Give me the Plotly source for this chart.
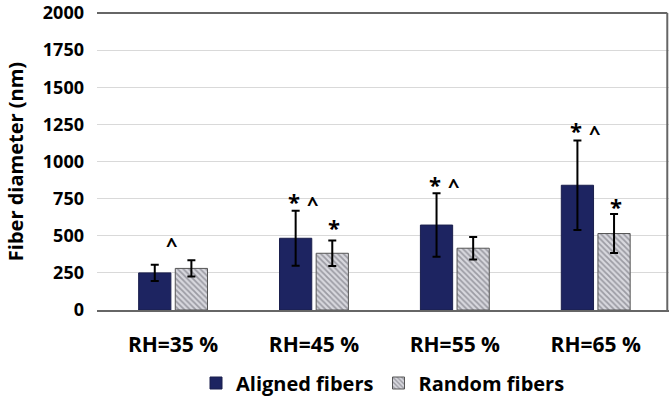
import plotly.graph_objects as go

categories = ["RH=35 %", "RH=45 %", "RH=55 %", "RH=65 %"]
aligned_mean = [250, 483, 572, 840]
aligned_sd = [55, 185, 214, 302]
random_mean = [280, 382, 416, 515]
random_sd = [55, 86, 76, 131]
aligned_star = [False, True, True, True]
aligned_caret = [True, True, True, True]
random_star = [False, True, False, True]
aligned_label_y = [450, 727, 842, 1205]
random_label_y = [None, 552, None, 694]
y_ticks = [0, 250, 500, 750, 1000, 1250, 1500, 1750, 2000]

x_idx = list(range(len(categories)))
FONT = "Open Sans"
NAVY = "#1d2461"

fig = go.Figure()
fig.add_trace(go.Bar(
    x=x_idx, y=aligned_mean, name="<b>Aligned fibers</b>",
    marker=dict(color=NAVY, line=dict(color="#1a1f4d", width=1)),
    error_y=dict(type="data", array=aligned_sd, color="black", thickness=2, width=4),
))
fig.add_trace(go.Bar(
    x=x_idx, y=random_mean, name="<b>Random fibers</b>",
    marker=dict(color="#d8d8de", line=dict(color="#555555", width=1),
                pattern=dict(shape="\\", fgcolor="#5e5e68", bgcolor="#d8d8de",
                             size=4, solidity=0.45)),
    error_y=dict(type="data", array=random_sd, color="black", thickness=2, width=4),
))

off = 0.143
for i in x_idx:
    if aligned_star[i]:
        fig.add_annotation(x=i - off, y=aligned_label_y[i], text="<b>*</b>", showarrow=False,
                           yanchor="middle", yshift=1, font=dict(size=22, color="black", family=FONT))
    if aligned_caret[i]:
        fig.add_annotation(x=i - off, y=aligned_label_y[i], text="<b>^</b>", showarrow=False,
                           xshift=19, yanchor="middle", yshift=-1, font=dict(size=20, color="black", family=FONT))
    if random_star[i]:
        fig.add_annotation(x=i + off, y=random_label_y[i], text="<b>*</b>", showarrow=False,
                           yanchor="middle", yshift=1, font=dict(size=22, color="black", family=FONT))

# plot-area frame (top and right edges)
fig.add_shape(type="line", xref="paper", yref="paper", x0=0, x1=0.997, y0=1, y1=1,
              line=dict(color="#666666", width=2))
fig.add_shape(type="line", xref="paper", yref="paper", x0=0.997, x1=0.997, y0=0, y1=1,
              line=dict(color="#666666", width=2))

fig.update_layout(
    width=672, height=402,
    margin=dict(l=97, r=3, t=13, b=92, autoexpand=False),
    paper_bgcolor="white", plot_bgcolor="white",
    barmode="group", bargap=0.48, bargroupgap=0.12,
    font=dict(family=FONT, color="black"),
    showlegend=True,
    legend=dict(orientation="h", x=0.5, xanchor="center",
                yref="container", y=(402 - 383) / 402, yanchor="middle",
                font=dict(size=20, family=FONT, color="black"),
                itemwidth=30, traceorder="normal"),
)
fig.update_xaxes(
    tickmode="array", tickvals=x_idx, ticktext=[f"<b>{c}</b>" for c in categories],
    range=[-0.54, 3.52], showgrid=False, showline=True, linecolor="#666666", linewidth=1.5,
    ticks="", tickfont=dict(size=21, family=FONT, color="black"), ticklabelstandoff=15,
    automargin=False,
)
fig.update_yaxes(
    range=[0, 2000], tickmode="array", tickvals=y_ticks,
    ticktext=[f"<b>{v}</b>" for v in y_ticks],
    showgrid=True, gridcolor="#d9d9d9", gridwidth=1, zeroline=False, showline=False,
    ticks="", tickfont=dict(size=18, family=FONT, color="black"), ticklabelstandoff=12,
    title=dict(text="<b>Fiber diameter (nm)</b>", font=dict(size=20, family=FONT, color="black"), standoff=13),
    automargin=False,
)

fig.write_html("out.html", config={"displayModeBar": False},
               post_script="document.body.style.margin='0';")
